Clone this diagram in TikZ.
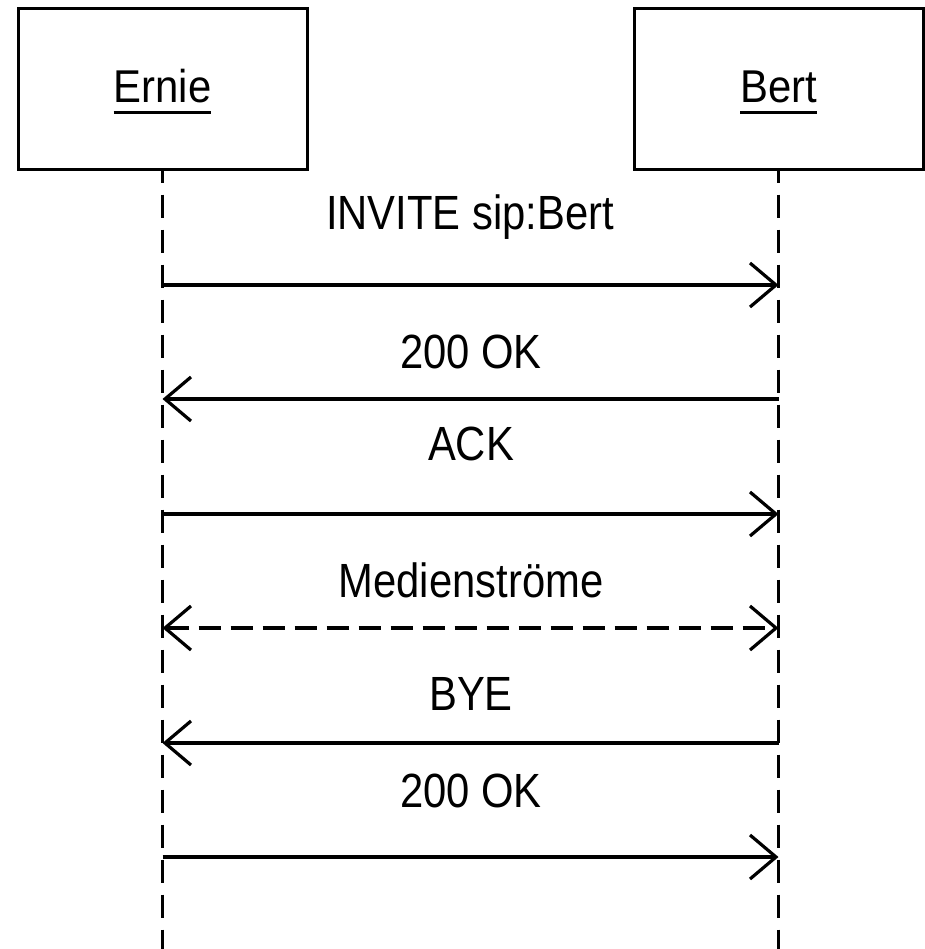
\documentclass[tikz,border=0pt]{standalone}
\usepackage{fontspec}
\usetikzlibrary{arrows.meta}
\newfontfamily\sipfont[FakeStretch=0.91]{Liberation Sans}
\newfontfamily\msgfont[FakeStretch=0.87]{Liberation Sans}
\newcommand\lifename[1]{\setbox0\hbox{#1}\rlap{\usebox0}\rule[-5.75pt]{\wd0}{1.5pt}}
\tikzset{actorbox/.style={
  draw=black,
  line width=1.5pt,
  minimum width=144.5pt,
  minimum height=80.5pt,
  text height=16.5pt,
  text depth=3pt,
  inner sep=0pt,
  font=\sipfont\fontsize{23}{27}\selectfont,
  },
  lifeline/.style={line width=1.1pt, dash pattern=on 11.5pt off 6pt, dash phase=5.5pt},
  msg/.style={line width=1.6pt, -{Straight Barb[length=13pt,width=22pt,line width=1.6pt]}},
  msglabel/.style={anchor=base, inner sep=0pt, font=\msgfont\fontsize{24}{28}\selectfont},
}

\begin{document}
\begin{tikzpicture}[x=0.5pt,y=-0.5pt]
      \useasboundingbox (0,0) rectangle (925,949);
        \node [actorbox] (ernie) at (162.5,88.5) {\lifename{Ernie}};
        \node [actorbox] (bert) at (778.5,88.5) {\lifename{Bert}};

        \coordinate (ernieend) at (162.5,949);
        \coordinate (bertend) at (778.5,949);
        \draw [lifeline] (ernie.south) -- (ernieend);
        \draw [lifeline] (bert.south) -- (bertend);

        \coordinate (e1) at (162.5,285); \coordinate (b1) at (778.5,285);
        \coordinate (e2) at (162.5,399); \coordinate (b2) at (778.5,399);
        \coordinate (e3) at (162.5,514); \coordinate (b3) at (778.5,514);
        \coordinate (e4) at (162.5,628); \coordinate (b4) at (778.5,628);
        \coordinate (e5) at (162.5,743); \coordinate (b5) at (778.5,743);
        \coordinate (e6) at (162.5,857); \coordinate (b6) at (778.5,857);

        \node [msglabel] (invite) at (470,229) {INVITE sip:Bert};
        \node [msglabel] (ok1) at (471,368) {200 OK};
        \node [msglabel] (ack) at (471,460) {ACK};
        \node [msglabel] (media) at (471,597) {Medienströme};
        \node [msglabel] (bye) at (471,710) {BYE};
        \node [msglabel] (ok2) at (471,807) {200 OK};

        \draw [msg] (e1) -- (b1);
        \draw [msg] (b2) -- (e2);
        \draw [msg] (e3) -- (b3);
        \draw [msg, {Straight Barb[length=13pt,width=22pt,line width=1.6pt]}-{Straight Barb[length=13pt,width=22pt,line width=1.6pt]}, dash pattern=on 11pt off 5pt] (e4) -- (b4);
        \draw [msg] (b5) -- (e5);
        \draw [msg] (e6) -- (b6);
    \end{tikzpicture}
\end{document}
